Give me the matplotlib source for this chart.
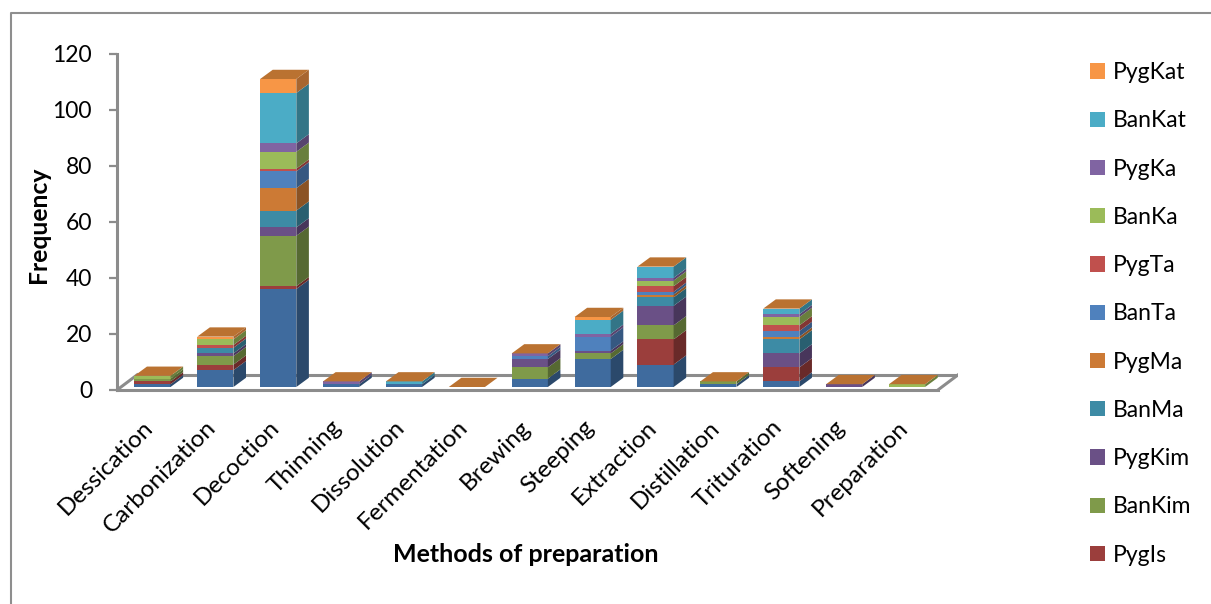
#!/usr/bin/env python3
import matplotlib
matplotlib.use('Agg')
import matplotlib.pyplot as plt
from matplotlib.lines import Line2D
from matplotlib.patches import Patch
from matplotlib.transforms import ScaledTranslation
import numpy as np

plt.rcParams['font.family'] = ['Lato', 'DejaVu Sans']

methods = ['Dessication', 'Carbonization', 'Decoction', 'Thinning', 'Dissolution',
           'Fermentation', 'Brewing', 'Steeping', 'Extraction', 'Distillation',
           'Trituration', 'Softening', 'Preparation']

# bottom to top of the stack, same order as methods
BanIs = [1, 6, 35, 1, 1, 0, 3, 10, 8, 1, 2, 0, 0]
PygIs = [1, 2, 1, 0, 0, 0, 0, 0, 9, 0, 5, 0, 0]
BanKim = [1, 3, 18, 0, 0, 0, 4, 2, 5, 1, 0, 0, 0]
PygKim = [0, 1, 3, 0, 0, 0, 3, 1, 7, 0, 5, 1, 0]
BanMa = [0, 2, 6, 0, 0, 0, 0, 0, 3, 0, 5, 0, 0]
PygMa = [0, 0, 8, 0, 0, 0, 0, 0, 1, 0, 1, 0, 0]
BanTa = [0, 0, 6, 0, 0, 0, 1, 5, 1, 0, 2, 0, 0]
PygTa = [0, 1, 1, 0, 0, 0, 0, 0, 2, 0, 2, 0, 0]
BanKa = [1, 2, 6, 0, 0, 0, 0, 0, 2, 0, 3, 0, 1]
PygKa = [0, 0, 3, 1, 0, 0, 1, 1, 1, 0, 1, 0, 0]
BanKat = [0, 0, 18, 0, 1, 0, 0, 5, 4, 0, 2, 0, 0]
PygKat = [0, 1, 5, 0, 0, 0, 0, 1, 0, 0, 0, 0, 0]

series = [BanIs, PygIs, BanKim, PygKim, BanMa, PygMa, BanTa, PygTa, BanKa, PygKa, BanKat, PygKat]
colors = ['#3F6B9E', '#9B3E3C', '#7F9A4A', '#6A5086', '#3D8BA5', '#CC7A35',
          '#4F81BD', '#C0504D', '#9BBB59', '#8064A2', '#4BACC6', '#F79646']
legend_names = ['PygIs', 'BanKim', 'PygKim', 'BanMa', 'PygMa', 'BanTa', 'PygTa',
                'BanKa', 'PygKa', 'BanKat', 'PygKat']
top_color = '#BA7231'
grey = '#8C8C8C'

W, H = 1211, 604
fig = plt.figure(figsize=(W / 100, H / 100), dpi=100)
ax = fig.add_axes([117 / W, 1 - 390 / H, (958 - 117) / W, (390 - 54) / H])
ax.patch.set_alpha(0)

# 3d look of the chart, in data units
width = 0.575
base = 1.07
dx, dy = 0.2, 3.3
floor_dx, floor_dy = 0.32, 5.4
xleft, xright = -0.564, 12.49
ax.set_xlim(xleft, xright + floor_dx)
ax.set_ylim(0, 120)

ax.plot([xleft + floor_dx, xright + floor_dx], [floor_dy, floor_dy], color=grey, lw=2.2, zorder=1)
ax.plot([xleft, xleft + floor_dx], [0, floor_dy], color=grey, lw=2.2, zorder=1)
ax.plot([xright, xright + floor_dx], [0, floor_dy], color=grey, lw=2.2, zorder=1)
ax.plot([xleft, xright], [0, 0], color=grey, lw=2.2, zorder=1, clip_on=False)

x = np.arange(len(methods))
bottom = np.full(len(methods), base, dtype=float)
for vals, col in zip(series, colors):
    vals = np.array(vals, dtype=float)
    ax.bar(x, vals, width, bottom=bottom, color=col, linewidth=0, zorder=3)
    rgb = np.array(matplotlib.colors.to_rgb(col)) * 0.68
    for xi, v, b in zip(x, vals, bottom):
        if v > 0:
            r = xi + width / 2
            ax.fill([r, r + dx, r + dx, r], [b, b + dy, b + v + dy, b + v],
                    color=rgb, linewidth=0, zorder=3)
    bottom = bottom + vals

for xi, t in zip(x, bottom):
    l, r = xi - width / 2, xi + width / 2
    ax.fill([l, r, r + dx, l + dx], [t, t, t + dy, t + dy], color=top_color, linewidth=0, zorder=3)

for s in ['top', 'right', 'bottom']:
    ax.spines[s].set_visible(False)
ax.spines['left'].set_color(grey)
ax.spines['left'].set_linewidth(2.2)

ax.set_yticks(np.arange(0, 121, 20))
ax.tick_params(axis='y', length=6, width=1.6, color=grey, labelsize=16.5, pad=12)
ax.set_xticks(x)
ax.set_xticklabels(methods, rotation=45, ha='right', va='top', rotation_mode='anchor', fontsize=17.5)
ax.tick_params(axis='x', length=0, pad=19)
shift = ScaledTranslation(-10 / 100, 0, fig.dpi_scale_trans)
for lab in ax.get_xticklabels():
    lab.set_transform(lab.get_transform() + shift)

fig.text(526 / W, 1 - 555 / H, 'Methods of preparation', fontsize=18, fontweight='bold',
         ha='center', va='center')
fig.text(38 / W, 1 - 225 / H, 'Frequency', fontsize=17.8, fontweight='bold', rotation=90,
         ha='center', va='center')

handles = [Patch(color=c, linewidth=0) for c in colors[1:]]
fig.legend(handles[::-1], legend_names[::-1], loc='upper left',
           bbox_to_anchor=(1090 / W, 1 - 62 / H), frameon=False, fontsize=16.5,
           handlelength=0.65, handleheight=0.65, handletextpad=0.35,
           labelspacing=1.19, borderpad=0, borderaxespad=0)

# outer chart frame, cut by the picture edge on the right and bottom
fig.add_artist(Line2D([11 / W, 11 / W, 1], [0, 1 - 13 / H, 1 - 13 / H], color='#8E8E8E', lw=1.5))

fig.savefig('out.png', dpi=100)
